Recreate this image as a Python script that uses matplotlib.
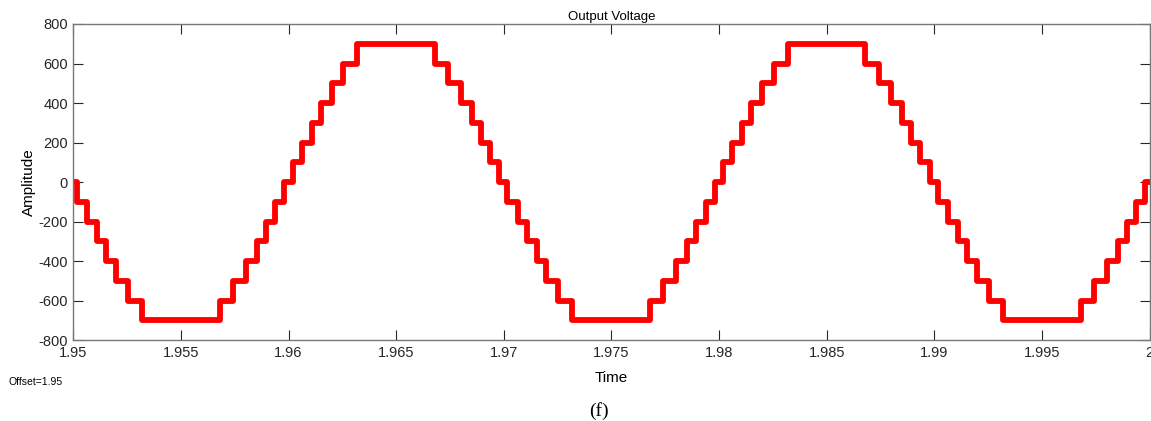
import numpy as np
import matplotlib.pyplot as plt

# switching instants within one 20 ms period (ms after the zero crossing) and the level held after each
edge_ms = [0.17, 0.65, 1.09, 1.52, 1.98, 2.54, 3.18,
           6.80, 7.42, 8.01, 8.52, 8.95, 9.38, 9.80,
           10.20, 10.62, 11.07, 11.50, 12.00, 12.54, 13.20,
           16.80, 17.42, 18.00, 18.50, 18.93, 19.36, 19.80]
level = [-100, -200, -300, -400, -500, -600, -700,
         -600, -500, -400, -300, -200, -100, 0,
         100, 200, 300, 400, 500, 600, 700,
         600, 500, 400, 300, 200, 100, 0]
period_ms = 20.0
n_periods = 3
t_start = 1.95
t_end = 2.0

xticks = [1.95, 1.955, 1.96, 1.965, 1.97, 1.975, 1.98, 1.985, 1.99, 1.995, 2.0]
xticklabels = ['1.95', '1.955', '1.96', '1.965', '1.97', '1.975', '1.98', '1.985', '1.99', '1.995', '2']
yticks = [-800, -600, -400, -200, 0, 200, 400, 600, 800]

# build the step waveform
t = [t_start]
v = [0]
for p in range(n_periods):
    for e, lv in zip(edge_ms, level):
        tt = t_start + (p * period_ms + e) / 1000.0
        if tt > t_end:
            break
        t.append(tt)
        v.append(lv)
t.append(t_end)
v.append(v[-1])

plt.rcParams['font.family'] = ['Liberation Sans', 'DejaVu Sans']
plt.rcParams['axes.unicode_minus'] = False

fig = plt.figure(figsize=(11.51, 4.21), dpi=100)
ax = fig.add_axes([0.0637, 0.192, 0.935, 0.751])
ax.step(t, v, where='post', color='#ff0000', linewidth=4.2)

ax.set_xlim(t_start, t_end)
ax.set_ylim(-800, 800)
ax.set_xticks(xticks)
ax.set_xticklabels(xticklabels)
ax.set_yticks(yticks)
ax.tick_params(direction='in', length=7, width=0.8, colors='#262626',
               labelsize=10.5, top=True, right=True, pad=4)
for sp in ax.spines.values():
    sp.set_color('#777777')
    sp.set_linewidth(1.0)

ax.set_title('Output Voltage', fontsize=9.5, pad=3)
ax.set_ylabel('Amplitude', fontsize=11, labelpad=2)
ax.set_xlabel('Time', fontsize=11, labelpad=8)

fig.text(0.007, 0.085, 'Offset=1.95', fontsize=7.5)
fig.text(0.52, 0.012, '(f)', fontsize=14, family=['Liberation Serif', 'DejaVu Serif'], ha='center')

fig.savefig('out.png', dpi=100)
